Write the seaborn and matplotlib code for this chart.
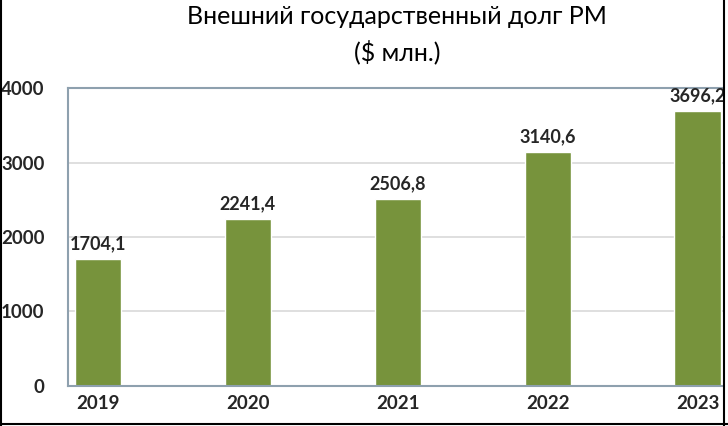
import matplotlib.pyplot as plt
import seaborn as sns
import pandas as pd
from matplotlib.lines import Line2D

years = ['2019', '2020', '2021', '2022', '2023']
debt = [1704.1, 2241.4, 2506.8, 3140.6, 3696.2]
yticks = [0, 1000, 2000, 3000, 4000]

sns.set_style('white')
plt.rcParams['font.family'] = ['Lato', 'DejaVu Sans']

df = pd.DataFrame({'year': years, 'debt': debt})

fig = plt.figure(figsize=(7.28, 4.26), dpi=100)
ax = fig.add_axes([0.0934, 0.095, 0.9, 0.698])
sns.barplot(data=df, x='year', y='debt', color='#77933C', saturation=1,
            width=0.31, ax=ax)

ax.set_xlim(-0.2, 4.17)
ax.set_ylim(0, 4000)
ax.set_yticks(yticks)
ax.set_yticklabels([str(t) for t in yticks], fontsize=13.5, fontweight='bold')
ax.set_xticks(range(len(years)))
ax.set_xticklabels(years, fontsize=13.5, fontweight='bold')
ax.tick_params(axis='y', length=0, pad=17)
ax.tick_params(axis='x', length=0, pad=7)
ax.set_xlabel('')
ax.set_ylabel('')

# сетка
for t in yticks[1:-1]:
    ax.axhline(t, color='#D9D9D9', lw=1.2, zorder=0)
ax.set_axisbelow(True)

for side in ['left', 'top', 'bottom']:
    ax.spines[side].set_color('#8EA0AE')
    ax.spines[side].set_linewidth(1.5)
ax.spines['right'].set_visible(False)

# подписи значений
for i, v in enumerate(debt):
    ax.annotate(f'{v:.1f}'.replace('.', ','), (i, v), xytext=(0, 5),
                textcoords='offset points', ha='center', va='bottom',
                fontsize=13, fontweight='bold')

fig.text(0.545, 0.962, 'Внешний государственный долг РМ', ha='center',
         va='center', fontsize=18, color='black')
fig.text(0.545, 0.878, '($ млн.)', ha='center', va='center', fontsize=18,
         color='black')

# рамка рисунка
for xs, ys in [([0.001, 0.001], [0, 1]), ([0, 1], [0.004, 0.004]),
               ([0.995, 0.995], [0, 1])]:
    fig.add_artist(Line2D(xs, ys, color='black', lw=1.5,
                          transform=fig.transFigure))

fig.savefig('out.png', dpi=100)
